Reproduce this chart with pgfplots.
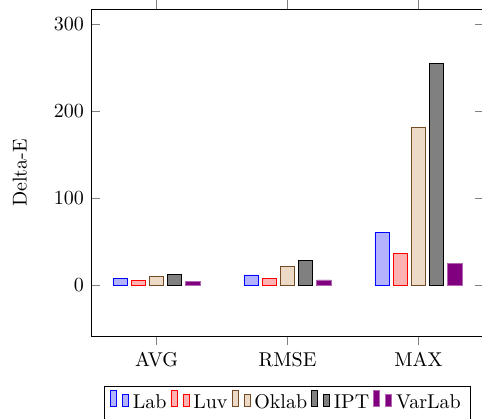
\documentclass[border=0pt]{standalone}
\usepackage{pgfplots}
\pgfplotsset{compat=1.18}
\usetikzlibrary{calc}
\begin{document}
\begin{tikzpicture}
\begin{axis}[
  scale only axis,
  width=196.5pt, height=163.85pt,
  ybar, bar width=0.25cm,
  xmin=-0.5, xmax=2.5,
  ymin=-59.5, ymax=317,
  xtick={0,1,2},
  xticklabels={AVG,RMSE,MAX},
  xtick align=outside,
  ytick={0,100,200,300},
  ylabel={Delta-E},
  every axis y label/.style={at={(axis description cs:-0.181,0.5)},rotate=90,anchor=center},
  legend style={at={(0.5,-0.15)},anchor=north,legend columns=-1},
]
\addplot[draw=blue, fill=blue!30!white] coordinates {(0,7.7) (1,11.5) (2,59.8)};
\addplot[draw=red, fill=red!30!white] coordinates {(0,5.4) (1,7.3) (2,36.4)};
\addplot[draw=brown!60!black, fill=brown!30!white] coordinates {(0,10.0) (1,21.5) (2,180.8)};
\addplot[draw=black, fill=gray] coordinates {(0,11.9) (1,27.6) (2,254.8)};
\addplot[draw=violet!60!white, fill=violet] coordinates {(0,3.8) (1,5.7) (2,24.5)};
\legend{Lab,Luv,Oklab,IPT,VarLab}
\end{axis}
\pgfresetboundingbox
\useasboundingbox ($(current axis.north west)+(-45.5pt,4.5pt)$) rectangle ++(241pt,-209pt);
\end{tikzpicture}
\end{document}
